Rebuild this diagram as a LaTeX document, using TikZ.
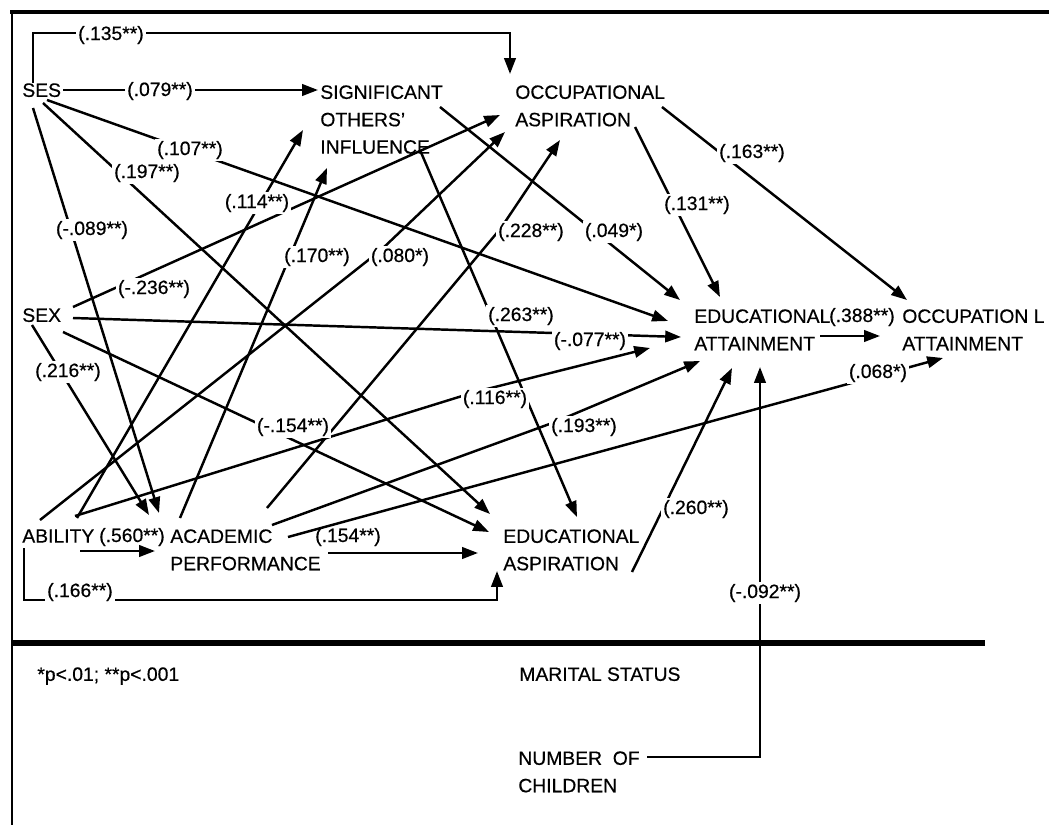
\documentclass[tikz,border=0pt]{standalone}
\usepackage{fontspec}
\setmainfont{Liberation Sans}[FakeBold=0.5]
\usetikzlibrary{arrows.meta}
\tikzset{
  var/.style={anchor=north west, inner sep=0pt, align=left, font=\fontsize{11pt}{15.6pt}\selectfont},
  coef/.style={inner sep=0pt, font=\fontsize{11pt}{13pt}\selectfont},
  cut/.style={coef, inner sep=1pt, fill=white},
  link/.style={line width=1.4pt, -{Triangle[length=9pt,width=6.5pt]}},
}
\begin{document}
\begin{tikzpicture}[x=0.02cm, y=-0.02cm]
  \useasboundingbox (0,0) rectangle (1049,825);
  % frame
  \draw[line width=2pt] (10,12) -- (1049,12);
  \draw[line width=1.6pt] (12,11) -- (12,825);
  \draw[line width=3.5pt] (11,643) -- (985,643);
  % variables
  \node[var] (ses) at (22,83) {SES};
  \node[var] (soi) at (320,85) {SIGNIFICANT\\OTHERS'\\INFLUENCE};
  \node[var] (occasp) at (515,85) {OCCUPATIONAL\\ASPIRATION};
  \node[var] (sex) at (22,308) {SEX};
  \node[var] (edatt) at (694,309) {EDUCATIONAL\\ATTAINMENT};
  \node[var] (occatt) at (902,309) {OCCUPATION L\\ATTAINMENT};
  \node[var] (ability) at (22,529) {ABILITY};
  \node[var] (acperf) at (170,529) {ACADEMIC\\PERFORMANCE};
  \node[var] (edasp) at (503,529) {EDUCATIONAL\\ASPIRATION};
  \node[var] (marital) at (519,667) {MARITAL STATUS};
  \node[var] (children) at (518,751) {NUMBER\ \ OF\\CHILDREN};
  \node[var] (note) at (37,667) {*p<.01; **p<.001};
  % path ends: SES
  \coordinate (a135) at (33,83); \coordinate (c135) at (510,33); \coordinate (b135) at (510,74);
  \coordinate (a079) at (63,90); \coordinate (b079) at (318,90);
  \coordinate (a107) at (47,100); \coordinate (b107) at (668,321);
  \coordinate (a197) at (43,103); \coordinate (b197) at (490,514);
  \coordinate (an089) at (33,108); \coordinate (bn089) at (159,513);
  % significant others, occupational aspiration
  \coordinate (a049) at (440,107); \coordinate (b049) at (680,300);
  \coordinate (a263) at (420,150); \coordinate (b263) at (577,517);
  \coordinate (a131) at (635,127); \coordinate (b131) at (720,297);
  \coordinate (a163) at (662,107); \coordinate (b163) at (907,300);
  % sex
  \coordinate (an236) at (73,307); \coordinate (bn236) at (500,115);
  \coordinate (an077) at (73,318); \coordinate (bn077) at (681,337);
  \coordinate (an154) at (63,332); \coordinate (bn154) at (489,532);
  \coordinate (a216) at (32,325); \coordinate (b216) at (149,515);
  % ability
  \coordinate (a080) at (40,520); \coordinate (m080) at (381,250); \coordinate (b080) at (505,132);
  \coordinate (a114) at (77,518); \coordinate (b114) at (303,130);
  \coordinate (a116) at (75,516); \coordinate (m116) at (475,392); \coordinate (b116) at (650,348);
  \coordinate (a560) at (80,551); \coordinate (b560) at (155,551);
  \coordinate (a166) at (24,548); \coordinate (c166) at (497,600); \coordinate (b166) at (497,571);
  % academic performance
  \coordinate (a170) at (180,518); \coordinate (b170) at (327,168);
  \coordinate (a228) at (267,508); \coordinate (m228) at (501,228); \coordinate (b228) at (560,140);
  \coordinate (a193) at (272,525); \coordinate (m193) at (555,422); \coordinate (b193) at (700,361);
  \coordinate (a068) at (288,537); \coordinate (b068) at (943,358);
  \coordinate (a154) at (328,553); \coordinate (b154) at (478,553);
  % the rest
  \coordinate (a260) at (632,572); \coordinate (b260) at (732,368);
  \coordinate (a388) at (820,336); \coordinate (b388) at (880,336);
  \coordinate (an092) at (647,757); \coordinate (bn092) at (760,367);
  % paths
  \draw[link] (a135) |- (c135) -- (b135);
  \draw[link] (a079) -- (b079);
  \draw[link] (a107) -- (b107);
  \draw[link] (a197) -- (b197);
  \draw[link] (an089) -- (bn089);
  \draw[link] (a049) -- (b049);
  \draw[link] (a263) -- (b263);
  \draw[link] (a131) -- (b131);
  \draw[link] (a163) -- (b163);
  \draw[link] (an236) -- (bn236);
  \draw[link] (an077) -- (bn077);
  \draw[link] (an154) -- (bn154);
  \draw[link] (a216) -- (b216);
  \draw[link] (a080) -- (m080) -- (b080);
  \draw[link] (a114) -- (b114);
  \draw[link] (a116) -- (m116) -- (b116);
  \draw[link] (a560) -- (b560);
  \draw[link] (a166) |- (c166) -- (b166);
  \draw[link] (a170) -- (b170);
  \draw[link] (a228) -- (m228) -- (b228);
  \draw[link] (a193) -- (m193) -- (b193);
  \draw[link] (a068) -- (b068);
  \draw[link] (a154) -- (b154);
  \draw[link] (a260) -- (b260);
  \draw[link] (a388) -- (b388);
  \draw[link] (an092) -| (bn092);
  % coefficients
  \node[cut] (l135) at (111,35) {(.135**)};
  \node[cut] (l079) at (160,91) {(.079**)};
  \node[cut] (l107) at (190,150) {(.107**)};
  \node[cut] (l197) at (147,173) {(.197**)};
  \node[cut] (ln089) at (92,230) {(-.089**)};
  \node[cut] (l114) at (257,203) {(.114**)};
  \node[cut] (l170) at (317,257) {(.170**)};
  \node[cut] (l080) at (400,257) {(.080*)};
  \node[cut] (l228) at (531,232) {(.228**)};
  \node[cut] (l049) at (614,232) {(.049*)};
  \node[cut] (l131) at (697,205) {(.131**)};
  \node[cut] (l163) at (752,153) {(.163**)};
  \node[cut] (ln236) at (154,289) {(-.236**)};
  \node[cut] (l216) at (68,372) {(.216**)};
  \node[cut] (ln154) at (293,427) {(-.154**)};
  \node[cut] (l263) at (521,316) {(.263**)};
  \node[cut] (ln077) at (590,341) {(-.077**)};
  \node[cut] (l116) at (495,399) {(.116**)};
  \node[cut] (l193) at (584,427) {(.193**)};
  \node[cut] (l260) at (696,509) {(.260**)};
  \node[cut] (l068) at (878,373) {(.068*)};
  \node[cut] (ln092) at (765,593) {(-.092**)};
  \node[cut] (l166) at (80,592) {(.166**)};
  \node[coef] (l560) at (132,537) {(.560**)};
  \node[coef] (l154) at (348,537) {(.154**)};
  \node[coef] (l388) at (862,317) {(.388**)};
\end{tikzpicture}
\end{document}
